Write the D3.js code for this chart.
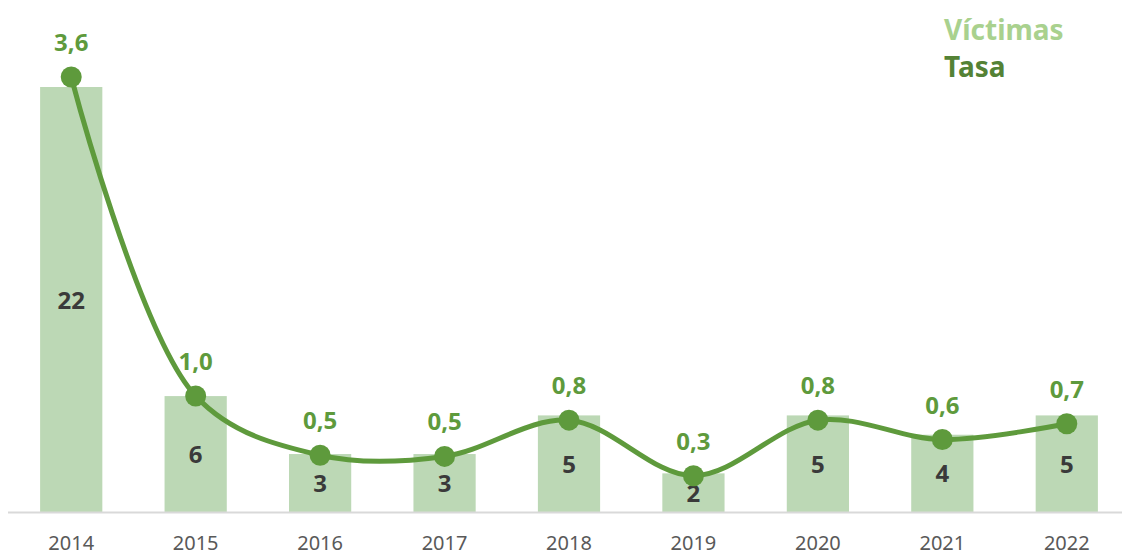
<!DOCTYPE html>
<html>
<head>
<meta charset="utf-8">
<script src="https://cdn.jsdelivr.net/npm/d3@7"></script>
<style>
  body { margin: 0; background: #fff; }
  svg { display: block; font-family: "Noto Sans", "Open Sans", sans-serif; }
</style>
</head>
<body>
<div id="chart"></div>
<script>
const years = ['2014', '2015', '2016', '2017', '2018', '2019', '2020', '2021', '2022'];
const victimas = [22, 6, 3, 3, 5, 2, 5, 4, 5];
const tasa = [3.6, 0.96, 0.47, 0.46, 0.76, 0.30, 0.76, 0.60, 0.73];
const legendLabels = ['Víctimas', 'Tasa'];

const colors = { bar: '#bcd8b5', line: '#5e9a3c', legendBar: '#a9d18e', legendLine: '#548235', text: '#3a3a3a', axis: '#595959' };

const width = 1122, height = 556;
const baseY = 512;

const svg = d3.select('#chart').append('svg')
  .attr('width', width)
  .attr('height', height);

const x = d3.scaleBand()
  .domain(years)
  .range([9, 1129])
  .paddingInner(0.5)
  .paddingOuter(0.25);

const yBar = d3.scaleLinear().domain([0, 22]).range([baseY, 87]);
const yLine = d3.scaleLinear().domain([0, 3.6]).range([baseY, 77]);

const fmt = d3.formatLocale({ decimal: ',', thousands: '.', grouping: [3], currency: ['$', ''] }).format('.1f');

// bars
svg.selectAll('.bar')
  .data(victimas)
  .enter().append('rect')
  .attr('class', 'bar')
  .attr('x', (d, i) => x(years[i]))
  .attr('y', d => yBar(d))
  .attr('width', x.bandwidth())
  .attr('height', d => baseY - yBar(d))
  .style('fill', colors.bar);

// axis line
svg.append('line')
  .attr('x1', 8).attr('x2', width)
  .attr('y1', baseY + 0.5).attr('y2', baseY + 0.5)
  .style('stroke', '#d9d9d9')
  .style('stroke-width', 2);

// year labels
svg.selectAll('.year')
  .data(years)
  .enter().append('text')
  .attr('class', 'year')
  .attr('x', d => x(d) + x.bandwidth() / 2)
  .attr('y', 550)
  .attr('text-anchor', 'middle')
  .style('font-size', '20px')
  .style('fill', colors.axis)
  .text(d => d);

// bar values
svg.selectAll('.barLabel')
  .data(victimas)
  .enter().append('text')
  .attr('class', 'barLabel')
  .attr('x', (d, i) => x(years[i]) + x.bandwidth() / 2)
  .attr('y', d => (yBar(d) + baseY) / 2 + 9)
  .attr('text-anchor', 'middle')
  .style('font-size', '24px')
  .style('font-weight', 'bold')
  .style('fill', colors.text)
  .text(d => d);

// tasa line
const line = d3.line()
  .x((d, i) => x(years[i]) + x.bandwidth() / 2)
  .y(d => yLine(d))
  .curve(d3.curveCatmullRom.alpha(0.5));

svg.append('path')
  .datum(tasa)
  .attr('d', line)
  .style('fill', 'none')
  .style('stroke', colors.line)
  .style('stroke-width', 5);

svg.selectAll('.dot')
  .data(tasa)
  .enter().append('circle')
  .attr('class', 'dot')
  .attr('cx', (d, i) => x(years[i]) + x.bandwidth() / 2)
  .attr('cy', d => yLine(d))
  .attr('r', 10.5)
  .style('fill', colors.line);

svg.selectAll('.lineLabel')
  .data(tasa)
  .enter().append('text')
  .attr('class', 'lineLabel')
  .attr('x', (d, i) => x(years[i]) + x.bandwidth() / 2)
  .attr('y', d => yLine(d) - 26)
  .attr('text-anchor', 'middle')
  .style('font-size', '24px')
  .style('font-weight', 'bold')
  .style('fill', colors.line)
  .text(d => fmt(d));

// legend
svg.selectAll('.legend')
  .data(legendLabels)
  .enter().append('text')
  .attr('class', 'legend')
  .attr('x', 944)
  .attr('y', (d, i) => 40 + i * 37)
  .style('font-size', '28px')
  .style('font-weight', 'bold')
  .style('fill', (d, i) => i === 0 ? colors.legendBar : colors.legendLine)
  .text(d => d);
</script>
</body>
</html>
